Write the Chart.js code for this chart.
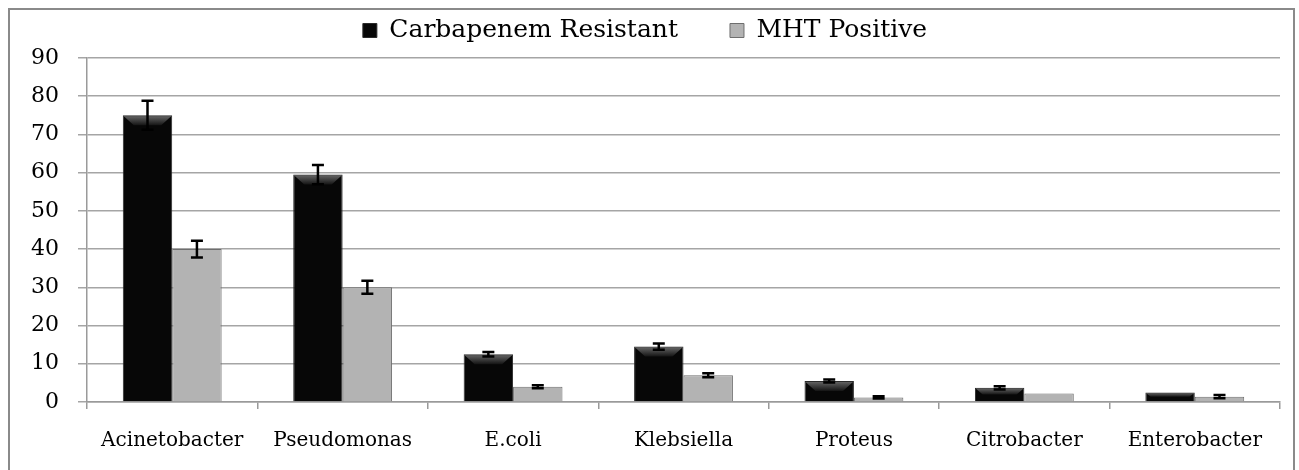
<!DOCTYPE html>
<html>
<head>
<meta charset="utf-8">
<script src="https://cdn.jsdelivr.net/npm/chart.js@4.4.1/dist/chart.umd.min.js"></script>
<style>
  body { margin: 0; background: #fff; overflow: hidden; }
  #wrap { position: relative; width: 1299px; height: 470px; }
  #frame { position: absolute; left: 8px; top: 8px; width: 1287px; height: 480px; border: 2px solid #8a8a8a; box-sizing: border-box; }
  #chart-box { position: absolute; left: 0; top: 0; width: 1299px; height: 470px; }
</style>
</head>
<body>
<div id="wrap">
  <div id="frame"></div>
  <div id="chart-box"><canvas id="bacteria-chart"></canvas></div>
</div>
<script>
// Données
const categories = ['Acinetobacter', 'Pseudomonas', 'E.coli', 'Klebsiella', 'Proteus', 'Citrobacter', 'Enterobacter'];
const carbapenemResistant = [75, 59.5, 12.5, 14.5, 5.5, 3.7, 2.5];
const mhtPositive = [40, 30, 4, 7, 1.2, 2.2, 1.4];
const errCarbapenem = [3.8, 2.5, 0.6, 0.8, 0.4, 0.4, 0];
const errMht = [2.2, 1.7, 0.4, 0.5, 0.3, 0, 0.4];
const yTicks = [0, 10, 20, 30, 40, 50, 60, 70, 80, 90];

const errors = [errCarbapenem, errMht];
const FONT = 'DejaVu Serif';
const LEGEND_GAP = 52;

// Hauteur fixe pour la légende (le padding sert aussi d'écart entre les entrées)
const legendHeight = {
  id: 'legendHeight',
  beforeInit(chart) {
    const fit = chart.legend.fit;
    chart.legend.fit = function () {
      fit.call(this);
      this.height = 58 - chart.options.layout.padding.top;
    };
  }
};

// Effet biseauté sur les barres noires + barres d'erreur
const barDecor = {
  id: 'barDecor',
  afterDatasetsDraw(chart) {
    const ctx = chart.ctx;
    const yScale = chart.scales.y;

    ctx.save();
    chart.getDatasetMeta(0).data.forEach(bar => {
      const left = bar.x - bar.width / 2;
      const right = bar.x + bar.width / 2;
      const top = bar.y;
      const b = Math.min(10, (bar.base - top) / 2);
      const grad = ctx.createLinearGradient(0, top, 0, top + b);
      grad.addColorStop(0, '#6a6a6a');
      grad.addColorStop(1, '#141414');
      ctx.fillStyle = grad;
      ctx.beginPath();
      ctx.moveTo(left + 1, top + 1);
      ctx.lineTo(right - 1, top + 1);
      ctx.lineTo(right - 1 - b, top + b);
      ctx.lineTo(left + 1 + b, top + b);
      ctx.closePath();
      ctx.fill();
    });

    ctx.strokeStyle = '#000';
    ctx.lineWidth = 2.5;
    chart.data.datasets.forEach((ds, i) => {
      const meta = chart.getDatasetMeta(i);
      meta.data.forEach((bar, j) => {
        const e = errors[i][j];
        if (!e) return;
        const v = ds.data[j];
        const yHi = yScale.getPixelForValue(v + e);
        const yLo = yScale.getPixelForValue(v - e);
        ctx.beginPath();
        ctx.moveTo(bar.x, yHi);
        ctx.lineTo(bar.x, yLo);
        ctx.moveTo(bar.x - 6, yHi);
        ctx.lineTo(bar.x + 6, yHi);
        ctx.moveTo(bar.x - 6, yLo);
        ctx.lineTo(bar.x + 6, yLo);
        ctx.stroke();
      });
    });
    ctx.restore();
  }
};

const config = {
  type: 'bar',
  data: {
    labels: categories,
    datasets: [
      {
        label: 'Carbapenem Resistant',
        data: carbapenemResistant,
        backgroundColor: '#070707',
        borderColor: '#2a2a2a',
        borderWidth: 1,
        categoryPercentage: 0.58,
        barPercentage: 1.0
      },
      {
        label: 'MHT Positive',
        data: mhtPositive,
        backgroundColor: '#b3b3b3',
        borderColor: '#6e6e6e',
        borderWidth: 1,
        categoryPercentage: 0.58,
        barPercentage: 1.0
      }
    ]
  },
  options: {
    responsive: true,
    maintainAspectRatio: false,
    animation: false,
    layout: { padding: { top: 18 - LEGEND_GAP, left: 10, right: 19, bottom: 0 } },
    plugins: {
      legend: {
        position: 'top',
        labels: {
          color: '#000',
          font: { family: FONT, size: 25 },
          boxWidth: 14,
          boxHeight: 14,
          padding: LEGEND_GAP
        }
      },
      tooltip: { enabled: false }
    },
    scales: {
      x: {
        grid: { drawOnChartArea: false, offset: true, tickLength: 7, color: '#9a9a9a', lineWidth: 1.5 },
        border: { color: '#9a9a9a', width: 1.5 },
        ticks: { color: '#000', font: { family: FONT, size: 20 }, padding: 20, maxRotation: 0 },
        afterFit(scale) { scale.height = 68; }
      },
      y: {
        min: 0,
        max: 90,
        afterBuildTicks(scale) { scale.ticks = yTicks.map(v => ({ value: v })); },
        grid: { color: '#a5a5a5', lineWidth: 1.5, tickLength: 9 },
        border: { color: '#9a9a9a', width: 1.5 },
        ticks: { color: '#000', font: { family: FONT, size: 22 }, padding: 19 },
        afterFit(scale) { scale.width = 77; }
      }
    }
  },
  plugins: [legendHeight, barDecor]
};

const ctx = document.getElementById('bacteria-chart').getContext('2d');
new Chart(ctx, config);
</script>
</body>
</html>
